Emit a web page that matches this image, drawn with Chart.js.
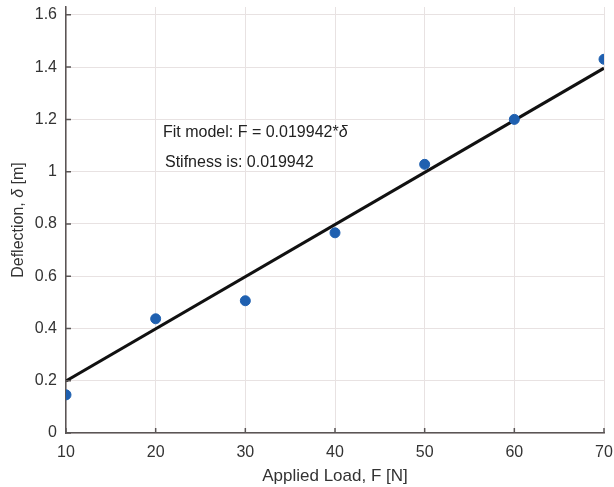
<!DOCTYPE html>
<html>
<head>
<meta charset="utf-8">
<script src="https://cdn.jsdelivr.net/npm/chart.js@4"></script>
<style>
  html, body { margin: 0; padding: 0; background: #fff; }
  #wrap { width: 614px; height: 487px; }
</style>
</head>
<body>
<div id="wrap"><canvas id="chart" width="614" height="487"></canvas></div>
<script>
// measured points
const loads = [10, 20, 30, 40, 50, 60, 70];
const deflections = [0.146, 0.437, 0.506, 0.766, 1.028, 1.2, 1.43];
// fitted line ends
const fitLoads = [10, 70];
const fitDeflections = [0.199, 1.396];
const xTicks = [10, 20, 30, 40, 50, 60, 70];
const yTicks = [0, 0.2, 0.4, 0.6, 0.8, 1, 1.2, 1.4, 1.6];

const FONT = 'Liberation Sans, Arial, sans-serif';

// small ticks pointing into the plot, the text lines, y title with italic delta
const extras = {
    id: 'extras',
    afterDraw(c) {
        const ctx = c.ctx;
        const xs = c.scales.x, ys = c.scales.y;
        const a = c.chartArea;
        ctx.save();
        ctx.strokeStyle = '#5a5555';
        ctx.lineWidth = 1.5;
        ctx.beginPath();
        xTicks.forEach(v => {
            const px = xs.getPixelForValue(v);
            ctx.moveTo(px, a.bottom);
            ctx.lineTo(px, a.bottom - 5);
        });
        yTicks.forEach(v => {
            const py = ys.getPixelForValue(v);
            ctx.moveTo(a.left, py);
            ctx.lineTo(a.left + 5, py);
        });
        ctx.stroke();

        ctx.fillStyle = '#222';
        ctx.textBaseline = 'middle';
        ctx.textAlign = 'left';
        ctx.font = '16px ' + FONT;
        const t1 = 'Fit model: F = 0.019942*';
        ctx.fillText(t1, 163, 133);
        const w = ctx.measureText(t1).width;
        ctx.font = 'italic 16px ' + FONT;
        ctx.fillText('\u03b4', 163 + w, 133);
        ctx.font = '16px ' + FONT;
        ctx.fillText('Stifness is: 0.019942', 165, 163);

        ctx.save();
        ctx.translate(19, 220);
        ctx.rotate(-Math.PI / 2);
        ctx.font = '16px ' + FONT;
        const p1 = 'Deflection, ', p2 = '\u03b4', p3 = ' [m]';
        const w1 = ctx.measureText(p1).width;
        const w3 = ctx.measureText(p3).width;
        ctx.font = 'italic 16px ' + FONT;
        const w2 = ctx.measureText(p2).width;
        const sx = -(w1 + w2 + w3) / 2;
        ctx.fillStyle = '#333';
        ctx.font = '16px ' + FONT;
        ctx.fillText(p1, sx, 0);
        ctx.font = 'italic 16px ' + FONT;
        ctx.fillText(p2, sx + w1, 0);
        ctx.font = '16px ' + FONT;
        ctx.fillText(p3, sx + w1 + w2, 0);
        ctx.restore();
        ctx.restore();
    }
};

new Chart(document.getElementById('chart'), {
    type: 'scatter',
    data: {
        datasets: [{
            label: 'fit',
            type: 'line',
            data: fitLoads.map((x, i) => ({ x: x, y: fitDeflections[i] })),
            borderColor: '#111',
            borderWidth: 3,
            pointRadius: 0,
            fill: false,
            order: 2
        }, {
            label: 'data',
            data: loads.map((x, i) => ({ x: x, y: deflections[i] })),
            backgroundColor: '#1f60b0',
            borderColor: '#1f60b0',
            pointRadius: 5,
            order: 1
        }]
    },
    options: {
        responsive: false,
        animation: false,
        layout: { padding: { top: 7, right: 10, left: 0, bottom: 0 } },
        plugins: { legend: { display: false }, tooltip: { enabled: false } },
        scales: {
            x: {
                type: 'linear',
                min: 10,
                max: 70,
                afterBuildTicks: s => { s.ticks = xTicks.map(v => ({ value: v })); },
                afterFit: s => { s.height = 54; s.paddingLeft = 0; s.paddingRight = 0; },
                grid: { color: '#e8e2e2', lineWidth: 1, tickLength: 0 },
                border: { color: '#5a5555', width: 1.5 },
                ticks: { color: '#333', font: { size: 16, family: FONT }, padding: 10, maxRotation: 0 },
                title: { display: true, text: 'Applied Load, F [N]', color: '#333', font: { size: 17, family: FONT }, padding: { top: 4, bottom: 0 } }
            },
            y: {
                type: 'linear',
                min: 0,
                max: 1.63,
                afterBuildTicks: s => { s.ticks = yTicks.map(v => ({ value: v })); },
                afterFit: s => { s.width = 66; s.paddingTop = 0; s.paddingBottom = 0; },
                grid: { color: '#e8e2e2', lineWidth: 1, tickLength: 0 },
                border: { color: '#5a5555', width: 1.5 },
                ticks: { color: '#333', font: { size: 16, family: FONT }, padding: 9, callback: v => String(Math.round(v * 10) / 10) }
            }
        }
    },
    plugins: [extras]
});
</script>
</body>
</html>
